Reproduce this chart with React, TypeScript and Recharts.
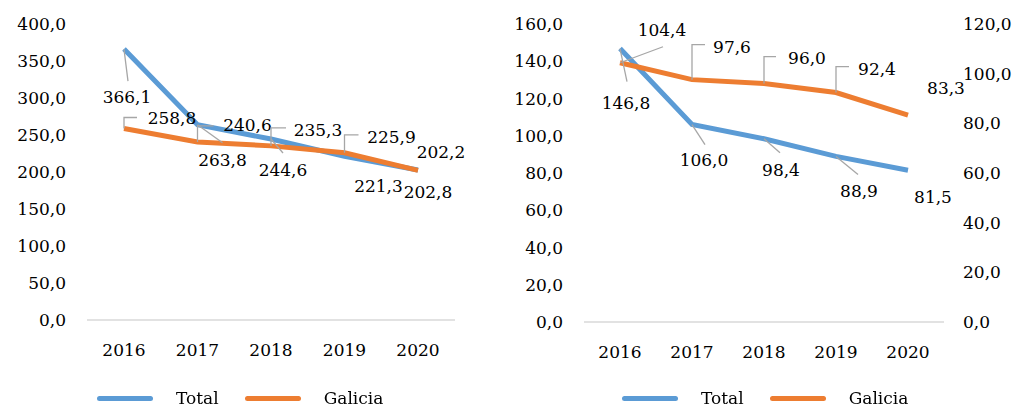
import { LineChart, Line, XAxis, YAxis, Legend, LabelList } from "recharts";

const years = ["2016", "2017", "2018", "2019", "2020"];

// left panel
const leftTotal = [366.1, 263.8, 244.6, 221.3, 202.8];
const leftGalicia = [258.8, 240.6, 235.3, 225.9, 202.2];
const leftTicks = [0, 50, 100, 150, 200, 250, 300, 350, 400];

// right panel (Total on left axis, Galicia on right axis)
const rightTotal = [146.8, 106.0, 98.4, 88.9, 81.5];
const rightGalicia = [104.4, 97.6, 96.0, 92.4, 83.3];
const rightTicksLeft = [0, 20, 40, 60, 80, 100, 120, 140, 160];
const rightTicksRight = [0, 20, 40, 60, 80, 100, 120];

const BLUE = "#5B9BD5";
const ORANGE = "#ED7D31";
const LEADER = "#A6A6A6";
const FONT = "'DejaVu Serif', serif";

const fmt = (v: number) => v.toFixed(1).replace(".", ",");

// label placement relative to the point: label centre (dx, dy), leader end (lx, ly), kind
type Place = { dx: number; dy: number; kind: "line" | "elbow" | "none"; lx?: number; ly?: number };

const leftTotalPlaces: Place[] = [
  { dx: 3, dy: 48, kind: "line", lx: 4, ly: 32 },
  { dx: 25, dy: 35, kind: "line", lx: 25, ly: 18 },
  { dx: 12, dy: 31, kind: "line", lx: 12, ly: 14 },
  { dx: 34, dy: 30, kind: "none" },
  { dx: 10, dy: 22, kind: "none" },
];
const leftGaliciaPlaces: Place[] = [
  { dx: 48, dy: -10, kind: "elbow", lx: 13, ly: -11 },
  { dx: 50, dy: -17, kind: "elbow", lx: 16, ly: -16 },
  { dx: 47, dy: -16, kind: "elbow", lx: 15, ly: -18 },
  { dx: 47, dy: -16, kind: "elbow", lx: 14, ly: -18 },
  { dx: 23, dy: -18, kind: "none" },
];
const rightTotalPlaces: Place[] = [
  { dx: 6, dy: 54, kind: "line", lx: 7, ly: 33 },
  { dx: 12, dy: 35, kind: "line", lx: 13, ly: 20 },
  { dx: 17, dy: 31, kind: "line", lx: 16, ly: 14 },
  { dx: 23, dy: 35, kind: "line", lx: 22, ly: 18 },
  { dx: 25, dy: 27, kind: "none" },
];
const rightGaliciaPlaces: Place[] = [
  { dx: 42, dy: -33, kind: "line", lx: 43, ly: -16 },
  { dx: 40, dy: -33, kind: "elbow", lx: 13, ly: -35 },
  { dx: 43, dy: -26, kind: "elbow", lx: 12, ly: -27 },
  { dx: 41, dy: -24, kind: "elbow", lx: 13, ly: -26 },
  { dx: 38, dy: -27, kind: "none" },
];

const leftData = years.map((year, i) => ({ year, total: leftTotal[i], galicia: leftGalicia[i] }));
const rightData = years.map((year, i) => ({ year, total: rightTotal[i], galicia: rightGalicia[i] }));

function makeLabel(places: Place[]) {
  return (props: any) => {
    const { x, y, value, index } = props;
    const p = places[index];
    if (!p || x == null || y == null) return null;
    let leader = null;
    if (p.kind === "line") {
      leader = <line x1={x} y1={y} x2={x + (p.lx ?? 0)} y2={y + (p.ly ?? 0)} stroke={LEADER} strokeWidth={1.3} />;
    } else if (p.kind === "elbow") {
      leader = (
        <polyline
          points={`${x},${y} ${x},${y + (p.ly ?? 0)} ${x + (p.lx ?? 0)},${y + (p.ly ?? 0)}`}
          fill="none"
          stroke={LEADER}
          strokeWidth={1.3}
        />
      );
    }
    return (
      <g>
        {leader}
        <text x={x + p.dx} y={y + p.dy} textAnchor="middle" dominantBaseline="central" fontSize={17} fontFamily={FONT} fill="#000">
          {fmt(value)}
        </text>
      </g>
    );
  };
}

function LegendBox() {
  const item = (color: string, name: string, gap: number) => (
    <div style={{ display: "flex", alignItems: "center", marginRight: gap }}>
      <span style={{ display: "inline-block", width: 56, height: 5, borderRadius: 3, background: color, marginRight: 23 }} />
      <span style={{ fontSize: 17, fontFamily: FONT, color: "#000" }}>{name}</span>
    </div>
  );
  return (
    <div style={{ display: "flex", alignItems: "center", height: 20 }}>
      {item(BLUE, "Total", 26)}
      {item(ORANGE, "Galicia", 0)}
    </div>
  );
}

const tickStyle = { fill: "#000", fontSize: 17, fontFamily: FONT };

export default function App() {
  return (
    <div style={{ position: "fixed", left: 0, top: 0, width: 1015, height: 407, background: "#fff", fontFamily: FONT }}>
      <div style={{ position: "absolute", left: 0, top: 0 }}>
        <LineChart width={470} height={407} data={leftData} margin={{ top: 24, right: 15, bottom: 47, left: 0 }}>
          <XAxis
            dataKey="year"
            height={40}
            tickLine={false}
            tickSize={0}
            tickMargin={24}
            axisLine={{ stroke: "#D9D9D9", strokeWidth: 1.5 }}
            tick={tickStyle}
            padding={{ left: 37, right: 37 }}
          />
          <YAxis
            width={87}
            domain={[0, 400]}
            ticks={leftTicks}
            tickFormatter={fmt}
            axisLine={false}
            tickLine={false}
            tickSize={0}
            tickMargin={21}
            tick={tickStyle}
          />
          <Legend
            layout="horizontal"
            verticalAlign="middle"
            content={() => <LegendBox />}
            wrapperStyle={{ top: 388, left: 97, width: 360, height: 20 }}
          />
          <Line type="linear" dataKey="total" name="Total" stroke={BLUE} strokeWidth={5} dot={false} isAnimationActive={false}>
            <LabelList dataKey="total" content={makeLabel(leftTotalPlaces)} />
          </Line>
          <Line type="linear" dataKey="galicia" name="Galicia" stroke={ORANGE} strokeWidth={5} dot={false} isAnimationActive={false}>
            <LabelList dataKey="galicia" content={makeLabel(leftGaliciaPlaces)} />
          </Line>
        </LineChart>
      </div>
      <div style={{ position: "absolute", left: 490, top: 0 }}>
        <LineChart width={525} height={407} data={rightData} margin={{ top: 24, right: 0, bottom: 45, left: 0 }}>
          <XAxis
            dataKey="year"
            height={40}
            tickLine={false}
            tickSize={0}
            tickMargin={24}
            axisLine={{ stroke: "#D9D9D9", strokeWidth: 1.5 }}
            tick={tickStyle}
            padding={{ left: 36, right: 36 }}
          />
          <YAxis
            yAxisId="left"
            width={94}
            domain={[0, 160]}
            ticks={rightTicksLeft}
            tickFormatter={fmt}
            axisLine={false}
            tickLine={false}
            tickSize={0}
            tickMargin={21}
            tick={tickStyle}
          />
          <YAxis
            yAxisId="right"
            orientation="right"
            width={71}
            domain={[0, 120]}
            ticks={rightTicksRight}
            tickFormatter={fmt}
            axisLine={false}
            tickLine={false}
            tickSize={0}
            tickMargin={19}
            tick={tickStyle}
          />
          <Legend
            layout="horizontal"
            verticalAlign="middle"
            content={() => <LegendBox />}
            wrapperStyle={{ top: 388, left: 132, width: 360, height: 20 }}
          />
          <Line yAxisId="left" type="linear" dataKey="total" name="Total" stroke={BLUE} strokeWidth={5} dot={false} isAnimationActive={false}>
            <LabelList dataKey="total" content={makeLabel(rightTotalPlaces)} />
          </Line>
          <Line yAxisId="right" type="linear" dataKey="galicia" name="Galicia" stroke={ORANGE} strokeWidth={5} dot={false} isAnimationActive={false}>
            <LabelList dataKey="galicia" content={makeLabel(rightGaliciaPlaces)} />
          </Line>
        </LineChart>
      </div>
    </div>
  );
}
